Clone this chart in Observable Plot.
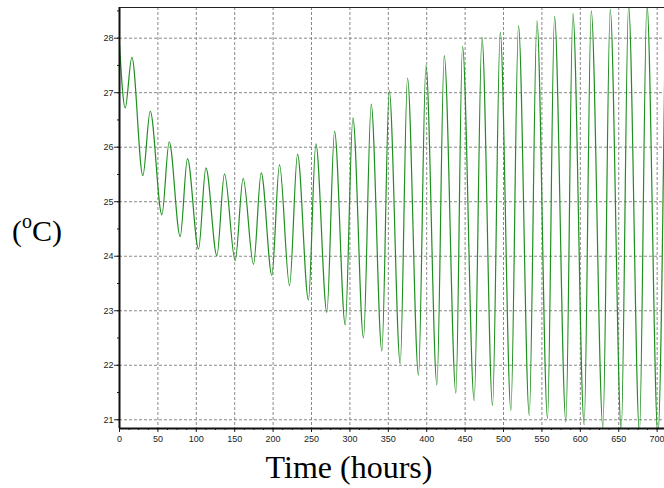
<!DOCTYPE html>
<html><head><meta charset="utf-8">
<script src="https://cdn.jsdelivr.net/npm/d3@7"></script>
<script src="https://cdn.jsdelivr.net/npm/@observablehq/plot@0.6"></script>
<style>body{margin:0;background:#fff}</style>
</head><body><div id="chart"></div>
<script>
// Time (hours) of the readable extrema of the temperature trace
const hours = [0, 7.4, 16.1, 30.4, 40, 55.2, 64.7, 79, 88.5, 102.9, 112.5, 126.8, 136.7, 150.6, 161, 174.5, 184.5, 198.4, 208.3, 221.4, 231.8, 246, 255.7, 270, 280, 293.9, 303.9, 317.7, 327.7, 341.6, 351.2, 365.5, 375, 389.3, 399, 413.3, 422.8, 438, 446.6, 461.8, 471.9, 485.7, 495.7, 509.6, 519.5, 533.5, 543.5, 557.3, 566.4, 581.2, 590.3, 605, 614.2, 629.4, 638.9, 653.3, 662.8, 677, 686.7, 701, 710];
// Temperature (°C) at those times
const temps = [27.88, 26.72, 27.65, 25.48, 26.66, 24.76, 26.1, 24.36, 25.79, 24.13, 25.62, 24.01, 25.51, 23.92, 25.43, 23.85, 25.53, 23.65, 25.68, 23.46, 25.87, 23.2, 26.06, 22.97, 26.29, 22.74, 26.54, 22.5, 26.79, 22.26, 27.04, 22.03, 27.27, 21.82, 27.5, 21.64, 27.68, 21.49, 27.85, 21.35, 28.02, 21.26, 28.11, 21.17, 28.23, 21.08, 28.32, 21.02, 28.4, 20.96, 28.45, 20.91, 28.5, 20.86, 28.53, 20.8, 28.6, 20.76, 28.63, 20.72, 27.6];
const xTicks = [0, 50, 100, 150, 200, 250, 300, 350, 400, 450, 500, 550, 600, 650, 700];
const xMinorTicks = [0, 12.5, 25, 37.5, 50, 62.5, 75, 87.5, 100, 112.5, 125, 137.5, 150, 162.5, 175, 187.5, 200, 212.5, 225, 237.5, 250, 262.5, 275, 287.5, 300, 312.5, 325, 337.5, 350, 362.5, 375, 387.5, 400, 412.5, 425, 437.5, 450, 462.5, 475, 487.5, 500, 512.5, 525, 537.5, 550, 562.5, 575, 587.5, 600, 612.5, 625, 637.5, 650, 662.5, 675, 687.5, 700];
const yTicks = [21, 22, 23, 24, 25, 26, 27, 28];
const yMinorTicks = [21, 21.5, 22, 22.5, 23, 23.5, 24, 24.5, 25, 25.5, 26, 26.5, 27, 27.5, 28, 28.5];
const xLabel = "Time (hours)";

const data = hours.map((t, i) => ({t, v: temps[i]}));
const yMin = 20.84, yMax = 28.563;

const chart = Plot.plot({
  width: 664, height: 488,
  marginLeft: 119, marginRight: 0, marginTop: 7, marginBottom: 60,
  x: {domain: [0, 709.6], label: null},
  y: {domain: [yMin, yMax], label: null},
  style: {fontFamily: "'Liberation Sans', Arial, sans-serif", fontSize: "9px", background: "#fff", color: "#222"},
  marks: [
    Plot.gridX(xTicks, {stroke: "#888", strokeOpacity: 1, strokeDasharray: "3,2"}),
    Plot.gridY(yTicks, {stroke: "#888", strokeOpacity: 1, strokeDasharray: "3,2"}),
    Plot.axisX(xMinorTicks, {tickSize: 2, tickFormat: () => "", stroke: "#222", label: null}),
    Plot.axisX(xTicks, {tickSize: 4, tickPadding: 3, tickFormat: "d", stroke: "#222", fill: "#222", label: null}),
    Plot.axisY(yMinorTicks, {tickSize: 2, tickFormat: () => "", stroke: "#222", label: null}),
    Plot.axisY(yTicks, {tickSize: 5, tickPadding: 1, tickFormat: "d", stroke: "#222", fill: "#222", label: null}),
    Plot.line(data, {x: "t", y: "v", curve: "monotone-x", stroke: "#1f8f1f", strokeWidth: 1.2, clip: true}),
    Plot.ruleY([yMax], {stroke: "#222", strokeWidth: 1}),
    Plot.ruleX([0], {stroke: "#111", strokeWidth: 2}),
    Plot.ruleY([yMin], {stroke: "#111", strokeWidth: 2})
  ]
});
document.getElementById("chart").appendChild(chart);

const svg = d3.select(chart);
svg.append("text")
  .attr("x", 349).attr("y", 478)
  .attr("text-anchor", "middle")
  .style("font-family", "'Liberation Serif', 'Times New Roman', serif")
  .style("font-size", "32px").style("fill", "#000")
  .text(xLabel);
const yl = svg.append("text")
  .attr("x", 12).attr("y", 241)
  .attr("text-anchor", "start")
  .style("font-family", "'Liberation Serif', 'Times New Roman', serif")
  .style("font-size", "30px").style("fill", "#000");
yl.append("tspan").text("(");
yl.append("tspan").attr("dy", -13).style("font-size", "20px").text("o");
yl.append("tspan").attr("dy", 13).text("C)");
</script>
</body></html>
